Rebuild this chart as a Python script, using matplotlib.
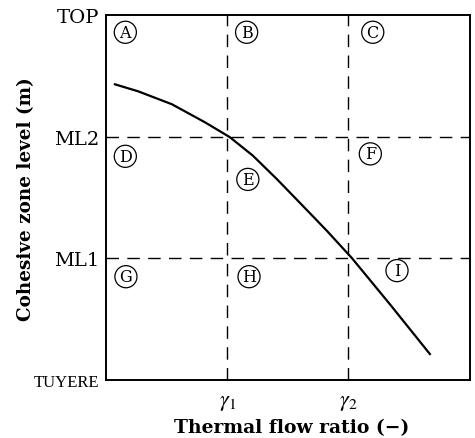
import matplotlib.pyplot as plt

# zone boundaries (in thirds of the axis)
level_names = ['TUYERE', 'ML1', 'ML2', 'TOP']
level_pos = [0, 1, 2, 3]
ratio_names = [r'$\gamma_1$', r'$\gamma_2$']
ratio_pos = [1, 2]

# cohesive zone level vs thermal flow ratio
curve_x = [0.074, 0.264, 0.544, 0.816, 1.022, 1.212, 1.410, 1.624, 1.822, 2.028, 2.341, 2.671]
curve_y = [2.432, 2.375, 2.268, 2.120, 1.997, 1.845, 1.652, 1.432, 1.227, 1.003, 0.624, 0.214]

# zone labels
zone_names = ['A', 'B', 'C', 'D', 'E', 'F', 'G', 'H', 'I']
zone_x = [0.16, 1.16, 2.20, 0.16, 1.17, 2.18, 0.165, 1.18, 2.40]
zone_y = [2.86, 2.86, 2.86, 1.84, 1.65, 1.86, 0.85, 0.85, 0.90]

plt.rcParams['font.family'] = ['DejaVu Serif']
plt.rcParams['mathtext.fontset'] = 'stix'

fig = plt.figure(figsize=(4.75, 4.39), dpi=100)
ax = fig.add_axes([0.223, 0.132, 0.766, 0.831])
ax.set_xlim(0, 3)
ax.set_ylim(0, 3)

# dashed grid that splits the chart into 9 zones
for x in ratio_pos:
    ax.axvline(x, color='black', lw=1.0, dashes=(9, 6))
for y in level_pos[1:3]:
    ax.axhline(y, color='black', lw=1.0, dashes=(9, 6))

ax.plot(curve_x, curve_y, color='black', lw=1.6)

for name, x, y in zip(zone_names, zone_x, zone_y):
    ax.text(x, y, name, ha='center', va='center', fontsize=11.5,
            bbox=dict(boxstyle='circle,pad=0.16', fc='white', ec='black', lw=0.9))

for s in ax.spines.values():
    s.set_linewidth(1.4)

ax.set_yticks(level_pos)
ax.set_yticklabels(level_names)
ax.set_xticks(ratio_pos)
ax.set_xticklabels(ratio_names, fontsize=16)
ax.tick_params(length=0, pad=5)
ax.tick_params(axis='x', pad=7)
for lab in ax.get_yticklabels():
    if lab.get_text() == 'TUYERE':
        lab.set_fontsize(12)
        lab.set_family('Liberation Serif')
    else:
        lab.set_fontsize(14)

ax.set_xlabel('Thermal flow ratio (−)', fontsize=13.5, fontweight='bold')
ax.set_ylabel('Cohesive zone level (m)', fontsize=13.2, fontweight='bold')
ax.xaxis.set_label_coords(0.511, -0.105)
ax.yaxis.set_label_coords(-0.195, 0.5)

fig.savefig('out.png', dpi=100)
